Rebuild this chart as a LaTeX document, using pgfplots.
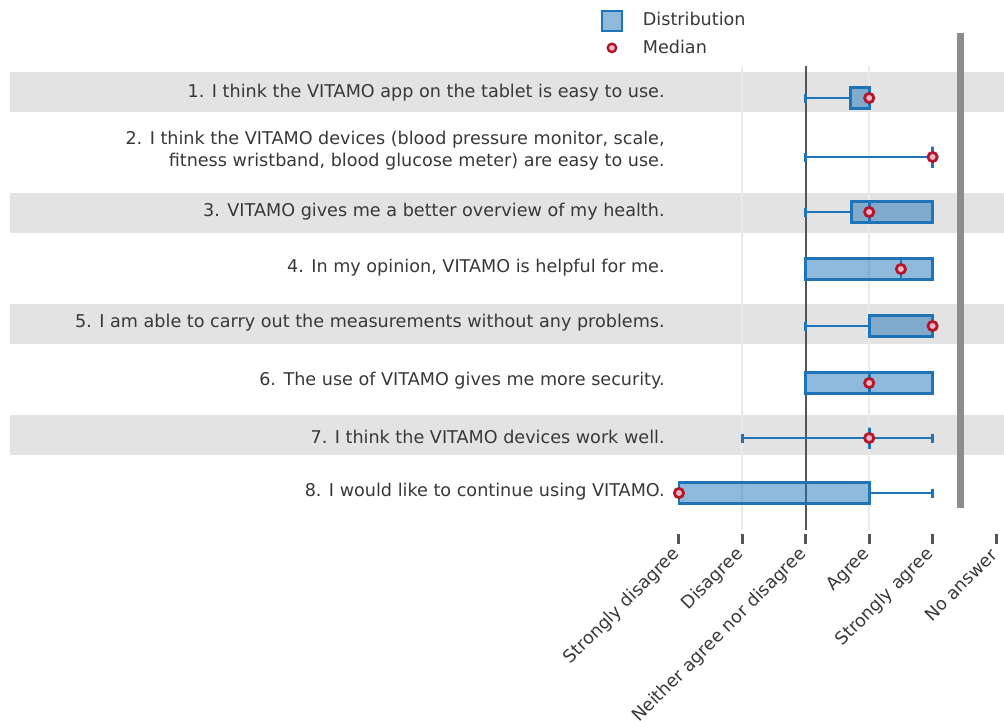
\documentclass[border=0pt]{standalone}
\usepackage{fontspec}
\setmainfont{DejaVu Sans}
\usepackage{pgfplots}
\pgfplotsset{compat=1.18}
\usepgfplotslibrary{statistics}
\definecolor{boxblue}{HTML}{1F74B8}
\definecolor{medred}{HTML}{B2182B}
\definecolor{medpink}{HTML}{F4B6C6}
\definecolor{band}{HTML}{E3E3E3}
\definecolor{txt}{HTML}{383838}
\definecolor{vline}{HTML}{555555}
\definecolor{thickc}{HTML}{8C8C8C}
\definecolor{gridc}{HTML}{EBEBEB}
\begin{document}
\begin{tikzpicture}
\clip (0,0) rectangle (502pt,360pt);
\begin{axis}[
  at={(5pt,93pt)}, anchor=south west, scale only axis,
  width=497pt, height=252pt,
  xmin=-9.55, xmax=6.126, ymin=-534, ymax=-30,
  axis line style={draw=none},
  ytick=\empty,
  xtick={1,2,3,4,5,6},
  xtick pos=bottom,
  tick align=outside,
  major tick length=5pt,
  xtick style={line width=1.5pt, color=vline},
  xticklabels={Strongly disagree, Disagree, Neither agree nor disagree, Agree, Strongly agree, No answer},
  xticklabel style={rotate=45, anchor=east, font=\fontsize{8.8}{10}\selectfont, text=txt, yshift=-2pt},
  boxplot/box extend=21,
  boxplot/whisker extend=9,
  legend style={at={(axis description cs:0.588,1.0517)}, anchor=north west, draw=none, fill=none,
    font=\fontsize{8.8}{10}\selectfont, text=txt, row sep=1.5pt},
  legend cell align=left,
]
\addlegendimage{legend image code/.code={\draw[draw=boxblue, line width=1pt, fill=boxblue, fill opacity=0.5] (3.5pt,-5pt) rectangle (13.5pt,5pt);}}
\addlegendentry{\hspace*{8pt}Distribution}
\addlegendimage{only marks, mark=*, mark size=2.1pt, mark options={draw=medred, fill=medpink, line width=1.2pt}}
\addlegendentry{\hspace*{8pt}Median}
% bands
\addplot[fill=band, draw=none, forget plot] coordinates {(-9.55,-72) (6.126,-72) (6.126,-112) (-9.55,-112)} -- cycle;
\addplot[fill=band, draw=none, forget plot] coordinates {(-9.55,-193) (6.126,-193) (6.126,-233) (-9.55,-233)} -- cycle;
\addplot[fill=band, draw=none, forget plot] coordinates {(-9.55,-304) (6.126,-304) (6.126,-344) (-9.55,-344)} -- cycle;
\addplot[fill=band, draw=none, forget plot] coordinates {(-9.55,-415) (6.126,-415) (6.126,-455) (-9.55,-455)} -- cycle;
% grid lines
\addplot[gridc, line width=1pt, forget plot] coordinates {(2,-66) (2,-530)};
\addplot[gridc, line width=1pt, forget plot] coordinates {(4,-66) (4,-530)};
\addplot[vline, line width=1pt, forget plot] coordinates {(3,-66) (3,-530)};
\addplot[thickc, line width=3.5pt, forget plot] coordinates {(5.432,-33) (5.432,-508)};
% boxes
\pgfplotsset{mybox/.style={draw=boxblue, fill=boxblue, fill opacity=0.5, line width=1.4pt, forget plot}}
\addplot[mybox, boxplot prepared={lower whisker=3, lower quartile=3.71, median=4, upper quartile=4, upper whisker=4, draw position=-98}] coordinates {};
\addplot[mybox, boxplot prepared={lower whisker=3, lower quartile=5, median=5, upper quartile=5, upper whisker=5, draw position=-157}] coordinates {};
\addplot[mybox, boxplot prepared={lower whisker=3, lower quartile=3.72, median=4, upper quartile=5, upper whisker=5, draw position=-212}] coordinates {};
\addplot[mybox, boxplot prepared={lower whisker=3, lower quartile=3, median=4.5, upper quartile=5, upper whisker=5, draw position=-269}] coordinates {};
\addplot[mybox, boxplot prepared={lower whisker=3, lower quartile=4, median=5, upper quartile=5, upper whisker=5, draw position=-326}] coordinates {};
\addplot[mybox, boxplot prepared={lower whisker=3, lower quartile=3, median=4, upper quartile=5, upper whisker=5, draw position=-383}] coordinates {};
\addplot[mybox, boxplot prepared={lower whisker=2, lower quartile=4, median=4, upper quartile=4, upper whisker=5, draw position=-438}] coordinates {};
\addplot[mybox, boxplot prepared={lower whisker=1, lower quartile=1, median=4, upper quartile=4, upper whisker=5, draw position=-493}] coordinates {};
% medians
\addplot[only marks, mark=*, mark size=2.3pt, mark options={draw=medred, fill=medpink, line width=1.4pt}, forget plot]
  coordinates {(4,-98) (5,-157) (4,-212) (4.5,-269) (5,-326) (4,-383) (4,-438) (1,-493)};
% row labels
\begin{scope}[every node/.style={anchor=east, inner sep=0pt, align=right, text=txt, font=\fontsize{8.8}{11}\selectfont}]
\node at (axis cs:0.78,-93) {1. I think the VITAMO app on the tablet is easy to use.};
\node at (axis cs:0.78,-151) {2. I think the VITAMO devices (blood pressure monitor, scale,\\fitness wristband, blood glucose meter) are easy to use.};
\node at (axis cs:0.78,-212) {3. VITAMO gives me a better overview of my health.};
\node at (axis cs:0.78,-268) {4. In my opinion, VITAMO is helpful for me.};
\node at (axis cs:0.78,-323) {5. I am able to carry out the measurements without any problems.};
\node at (axis cs:0.78,-381) {6. The use of VITAMO gives me more security.};
\node at (axis cs:0.78,-437) {7. I think the VITAMO devices work well.};
\node at (axis cs:0.78,-492) {8. I would like to continue using VITAMO.};
\end{scope}
\end{axis}
\end{tikzpicture}
\end{document}
